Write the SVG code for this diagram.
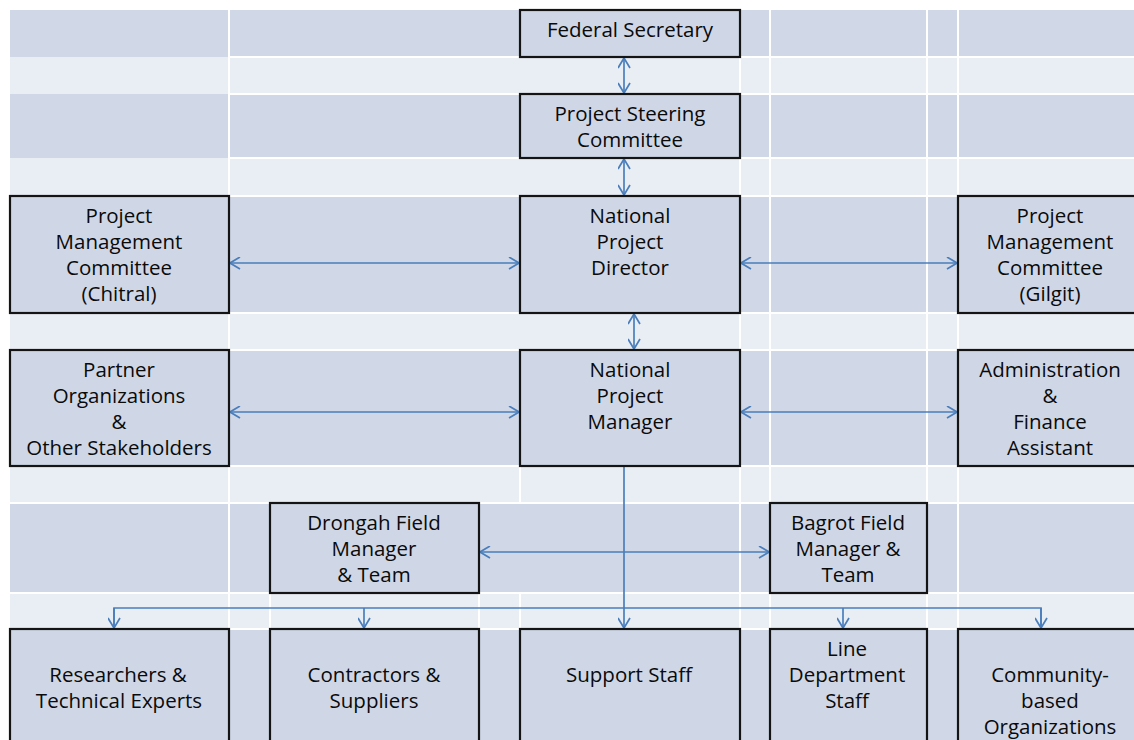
<svg xmlns="http://www.w3.org/2000/svg" width="1134" height="740" viewBox="0 0 1134 740">
  <style>
    .dark { fill: #D0D8E8; }
    .light { fill: #E9EDF4; }
    .grid { stroke: #FFFFFF; stroke-width: 2; fill: none; }
    .box { fill: #CFD7E7; stroke: #141414; stroke-width: 2.2; }
    .lbl { font-family: "Open Sans", "Liberation Sans", sans-serif; font-size: 20.5px; fill: #0A0A0A; text-anchor: middle; }
    .con { stroke: #4A7EBB; stroke-width: 1.7; fill: none; }
    .dbl { marker-start: url(#arr); marker-end: url(#arr); }
    .one { marker-end: url(#arr); }
  </style>
  <defs>
    <marker id="arr" viewBox="0 0 12 13" refX="11" refY="6.5" markerWidth="12" markerHeight="13" markerUnits="userSpaceOnUse" orient="auto-start-reverse">
      <path d="M1,0.5 L11,6.5 L1,12.5" fill="none" stroke="#4A7EBB" stroke-width="1.7"/>
    </marker>
  </defs>
  <rect width="1134" height="740" fill="#FFFFFF"/>
  <g id="background">
    <rect class="dark" x="10" y="10" width="1124" height="47"/>
    <rect class="light" x="10" y="57" width="1124" height="37"/>
    <rect class="dark" x="10" y="94" width="1124" height="64"/>
    <rect class="light" x="10" y="158" width="1124" height="38"/>
    <rect class="dark" x="10" y="196" width="1124" height="117"/>
    <rect class="light" x="10" y="313" width="1124" height="37"/>
    <rect class="dark" x="10" y="350" width="1124" height="116"/>
    <rect class="light" x="10" y="466" width="1124" height="37"/>
    <rect class="dark" x="10" y="503" width="1124" height="90"/>
    <rect class="light" x="10" y="593" width="1124" height="36"/>
    <rect class="dark" x="10" y="629" width="1124" height="111"/>
    <path class="grid" d="M229,10 V740 M740,10 V740 M770,10 V740 M927,10 V740 M958,10 V740 M520,466 V503 M520,593 V629 M270,593 V629 M479,593 V629"/>
    <path class="grid" d="M229,57 H1134 M229,94 H1134 M229,158 H1134 M229,196 H1134 M229,313 H1134 M229,350 H1134 M229,466 H1134 M10,503 H1134 M10,593 H1134 M229,629 H1134"/>
  </g>
  <g id="connectors">
    <line class="con dbl" x1="624" y1="58" x2="624" y2="93"/>
    <line class="con dbl" x1="624" y1="159" x2="624" y2="195"/>
    <line class="con dbl" x1="230" y1="263" x2="519" y2="263"/>
    <line class="con dbl" x1="741" y1="263" x2="957" y2="263"/>
    <line class="con dbl" x1="634" y1="314" x2="634" y2="349"/>
    <line class="con dbl" x1="230" y1="412" x2="519" y2="412"/>
    <line class="con dbl" x1="741" y1="412" x2="957" y2="412"/>
    <line class="con dbl" x1="480" y1="552" x2="769" y2="552"/>
    <line class="con one" x1="624" y1="467" x2="624" y2="628"/>
    <path class="con" d="M114,628 V608 H1041 V628"/>
    <line class="con one" x1="114" y1="608" x2="114" y2="628"/>
    <line class="con one" x1="364" y1="608" x2="364" y2="628"/>
    <line class="con one" x1="843" y1="608" x2="843" y2="628"/>
    <line class="con one" x1="1041" y1="608" x2="1041" y2="628"/>
  </g>
  <g id="federal-secretary">
    <rect class="box" x="520" y="10" width="220" height="47"/>
    <text class="lbl" x="630" y="37">Federal Secretary</text>
  </g>
  <g id="project-steering-committee">
    <rect class="box" x="520" y="94" width="220" height="64"/>
    <text class="lbl" x="630" y="121">Project Steering</text>
    <text class="lbl" x="630" y="147">Committee</text>
  </g>
  <g id="pmc-chitral">
    <rect class="box" x="10" y="196" width="219" height="117"/>
    <text class="lbl" x="119" y="223">Project</text>
    <text class="lbl" x="119" y="249">Management</text>
    <text class="lbl" x="119" y="275">Committee</text>
    <text class="lbl" x="119" y="301">(Chitral)</text>
  </g>
  <g id="national-project-director">
    <rect class="box" x="520" y="196" width="220" height="117"/>
    <text class="lbl" x="630" y="223">National</text>
    <text class="lbl" x="630" y="249">Project</text>
    <text class="lbl" x="630" y="275">Director</text>
  </g>
  <g id="pmc-gilgit">
    <rect class="box" x="958" y="196" width="186" height="117"/>
    <text class="lbl" x="1050" y="223">Project</text>
    <text class="lbl" x="1050" y="249">Management</text>
    <text class="lbl" x="1050" y="275">Committee</text>
    <text class="lbl" x="1050" y="301">(Gilgit)</text>
  </g>
  <g id="partner-organizations">
    <rect class="box" x="10" y="350" width="219" height="116"/>
    <text class="lbl" x="119" y="377">Partner</text>
    <text class="lbl" x="119" y="403">Organizations</text>
    <text class="lbl" x="119" y="429">&amp;</text>
    <text class="lbl" x="119" y="455">Other Stakeholders</text>
  </g>
  <g id="national-project-manager">
    <rect class="box" x="520" y="350" width="220" height="116"/>
    <text class="lbl" x="630" y="377">National</text>
    <text class="lbl" x="630" y="403">Project</text>
    <text class="lbl" x="630" y="429">Manager</text>
  </g>
  <g id="admin-finance-assistant">
    <rect class="box" x="958" y="350" width="186" height="116"/>
    <text class="lbl" x="1050" y="377">Administration</text>
    <text class="lbl" x="1050" y="403">&amp;</text>
    <text class="lbl" x="1050" y="429">Finance</text>
    <text class="lbl" x="1050" y="455">Assistant</text>
  </g>
  <g id="drongah-field-manager">
    <rect class="box" x="270" y="503" width="209" height="90"/>
    <text class="lbl" x="374" y="530">Drongah Field</text>
    <text class="lbl" x="374" y="556">Manager</text>
    <text class="lbl" x="374" y="582">&amp; Team</text>
  </g>
  <g id="bagrot-field-manager">
    <rect class="box" x="770" y="503" width="157" height="90"/>
    <text class="lbl" x="848" y="530">Bagrot Field</text>
    <text class="lbl" x="848" y="556">Manager &amp;</text>
    <text class="lbl" x="848" y="582">Team</text>
  </g>
  <g id="researchers">
    <rect class="box" x="10" y="629" width="219" height="120"/>
    <text class="lbl" x="118" y="682">Researchers &amp;</text>
    <text class="lbl" x="119" y="708">Technical Experts</text>
  </g>
  <g id="contractors">
    <rect class="box" x="270" y="629" width="209" height="120"/>
    <text class="lbl" x="374" y="682">Contractors &amp;</text>
    <text class="lbl" x="374" y="708">Suppliers</text>
  </g>
  <g id="support-staff">
    <rect class="box" x="520" y="629" width="220" height="120"/>
    <text class="lbl" x="629" y="682">Support Staff</text>
  </g>
  <g id="line-department-staff">
    <rect class="box" x="770" y="629" width="157" height="120"/>
    <text class="lbl" x="847" y="656">Line</text>
    <text class="lbl" x="847" y="682">Department</text>
    <text class="lbl" x="847" y="708">Staff</text>
  </g>
  <g id="community-based-organizations">
    <rect class="box" x="958" y="629" width="186" height="120"/>
    <text class="lbl" x="1050" y="682">Community-</text>
    <text class="lbl" x="1050" y="708">based</text>
    <text class="lbl" x="1050" y="734">Organizations</text>
  </g>
</svg>
